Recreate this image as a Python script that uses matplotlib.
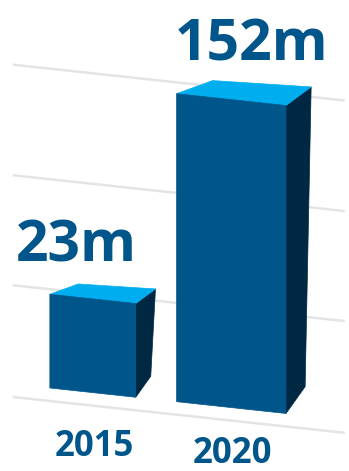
import numpy as np
import matplotlib
matplotlib.use("Agg")
import matplotlib.pyplot as plt
from matplotlib.patches import Rectangle, Polygon
from matplotlib.transforms import Affine2D, IdentityTransform

# data
years = ["2015", "2020"]
values = [23, 152]
value_labels = ["23m", "152m"]

# layout / style
bar_width = [0.62, 0.79]            # front face width, category units
label_off = [(-16, 37), (20, 39)]   # value label offset from bar top (px)
year_off = [(1.5, -63), (1.5, -55)] # year label offset from bar base (px)
grid_at = [-1, 25, 82, 161]         # decorative guide lines
front_c = "#00558B"
top_c = "#00AEEF"
side_c = "#002842"
text_c = "#00558B"
grid_c = "#E4E4E4"
fonts = ["Open Sans", "DejaVu Sans"]

fig = plt.figure(figsize=(3.49, 4.71), dpi=100)
ax = fig.add_axes([0, 0, 1, 1])
ax.set_axis_off()

# bars are drawn on a power scale so the small bar is still visible
p = 0.63
fwd = lambda v: np.sign(v) * np.abs(v) ** p
inv = lambda f: np.sign(f) * np.abs(f) ** (1 / p)
ax.set_yscale("function", functions=(fwd, inv))
ax.set_xlim(-0.67, 1.85)
ax.set_ylim(inv(-83 / 13.0), inv(388 / 13.0))

# tilt everything down to the right
skew = Affine2D().translate(-50, 0).skew(0, np.arctan(-0.108)).translate(50, 0)
T = ax.transData + skew

for g in grid_at:
    ax.plot([-0.578, 1.819], [g, g], color=grid_c, lw=1.8, transform=T,
            solid_capstyle="butt", zorder=1)

for i, (v, w) in enumerate(zip(values, bar_width)):
    xl, xr = i - w / 2, i + w / 2
    fl_t, fr_t, fr_b = T.transform([(xl, v), (xr, v), (xr, 0)])
    wpx = fr_t[0] - fl_t[0]
    # depth of the box, a bit of perspective
    d_tl = np.array([0.33, 0.12]) * wpx
    d_tr = np.array([0.23, 0.17]) * wpx
    d_br = np.array([0.175, 0.245]) * wpx

    side = Polygon([fr_t, fr_t + d_tr, fr_b + d_br, fr_b], closed=True,
                   transform=IdentityTransform(), facecolor=side_c,
                   edgecolor=side_c, lw=0.5, zorder=3)
    top = Polygon([fl_t, fr_t, fr_t + d_tr, fl_t + d_tl], closed=True,
                  transform=IdentityTransform(), facecolor=top_c,
                  edgecolor=top_c, lw=0.5, zorder=3)
    front = Rectangle((xl, 0), w, v, transform=T, facecolor=front_c,
                      edgecolor=front_c, lw=0.5, zorder=4)
    ax.add_patch(side)
    ax.add_patch(top)
    ax.add_patch(front)

    ax.annotate(value_labels[i], xy=(i, v), xycoords=T, xytext=label_off[i],
                textcoords="offset pixels", ha="center", va="baseline",
                fontsize=41, fontweight="bold", color=text_c, family=fonts)
    ax.annotate(years[i], xy=(i, 0), xycoords=T, xytext=year_off[i],
                textcoords="offset pixels", ha="center", va="baseline",
                fontsize=25, fontweight="bold", color=text_c, family=fonts)

fig.savefig("out.png", dpi=100)
